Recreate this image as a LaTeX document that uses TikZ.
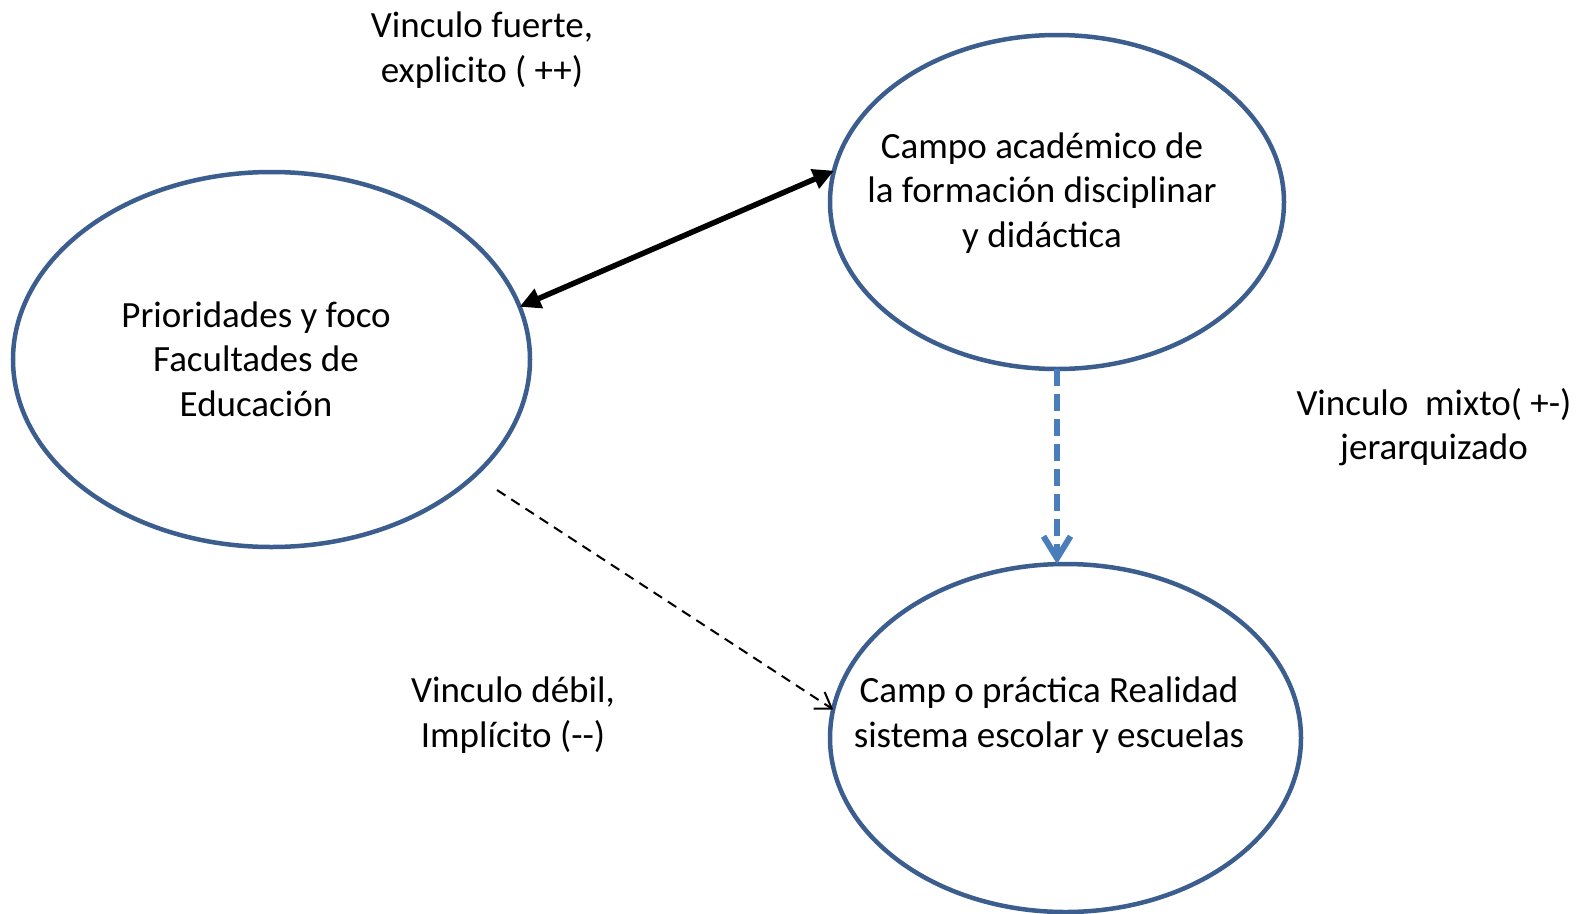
\documentclass[tikz,border=0pt]{standalone}
\usepackage{fontspec}
\setmainfont{Carlito}
\usetikzlibrary{arrows.meta,shapes.geometric}
\definecolor{ellblue}{HTML}{3B5E8E}
\definecolor{arrblue}{HTML}{4A7EBB}
\begin{document}
\begin{tikzpicture}[x=1pt,y=-1pt,
  ell/.style={ellipse,draw=ellblue,line width=4.5pt,inner sep=0pt,outer sep=0pt},
  lbl/.style={align=center,inner sep=0pt,font=\fontsize{37}{44.5}\selectfont},
  strong/.style={line width=5.5pt,{Triangle[length=21pt,width=20pt]}-{Triangle[length=21pt,width=20pt]}},
  mixed/.style={draw=arrblue,line width=6pt,dash pattern=on 17pt off 8pt,-{Straight Barb[length=22pt,width=27pt]}},
  weak/.style={line width=2pt,dash pattern=on 10pt off 7pt,-{Straight Barb[length=15pt,width=20pt]}}
]
\useasboundingbox (0,0) rectangle (1585,913);
\node[ell,minimum width=517pt,minimum height=375pt] (L) at (271.5,359.5) {};
\node[ell,minimum width=454pt,minimum height=334pt] (TR) at (1057,202) {};
\node[ell,minimum width=471pt,minimum height=348pt] (BR) at (1065.5,738) {};

\node[lbl] (tL) at (256,359) {Prioridades y foco\\Facultades de\\Educación};
\node[lbl] (tTR) at (1042,193) {Campo académico de\\la formación disciplinar\\y didáctica};
\node[lbl] (tBR) at (1049,715) {Camp o práctica Realidad\\sistema escolar y escuelas};

\node[lbl] (v1) at (482,50) {Vinculo fuerte,\\explicito ( ++)};
\node[lbl] (v2) at (1434,427) {Vinculo\ \ mixto( +-)\\jerarquizado};
\node[lbl] (v3) at (513,715) {Vinculo débil,\\Implícito (-{}-)};

\draw[strong] (L.12) -- (TR.172.5);
\draw[mixed] (TR.south) -- (TR.south |- BR.north);
\coordinate (ws) at (497,490);
\draw[weak] (ws) -- (BR.173);
\end{tikzpicture}
\end{document}
